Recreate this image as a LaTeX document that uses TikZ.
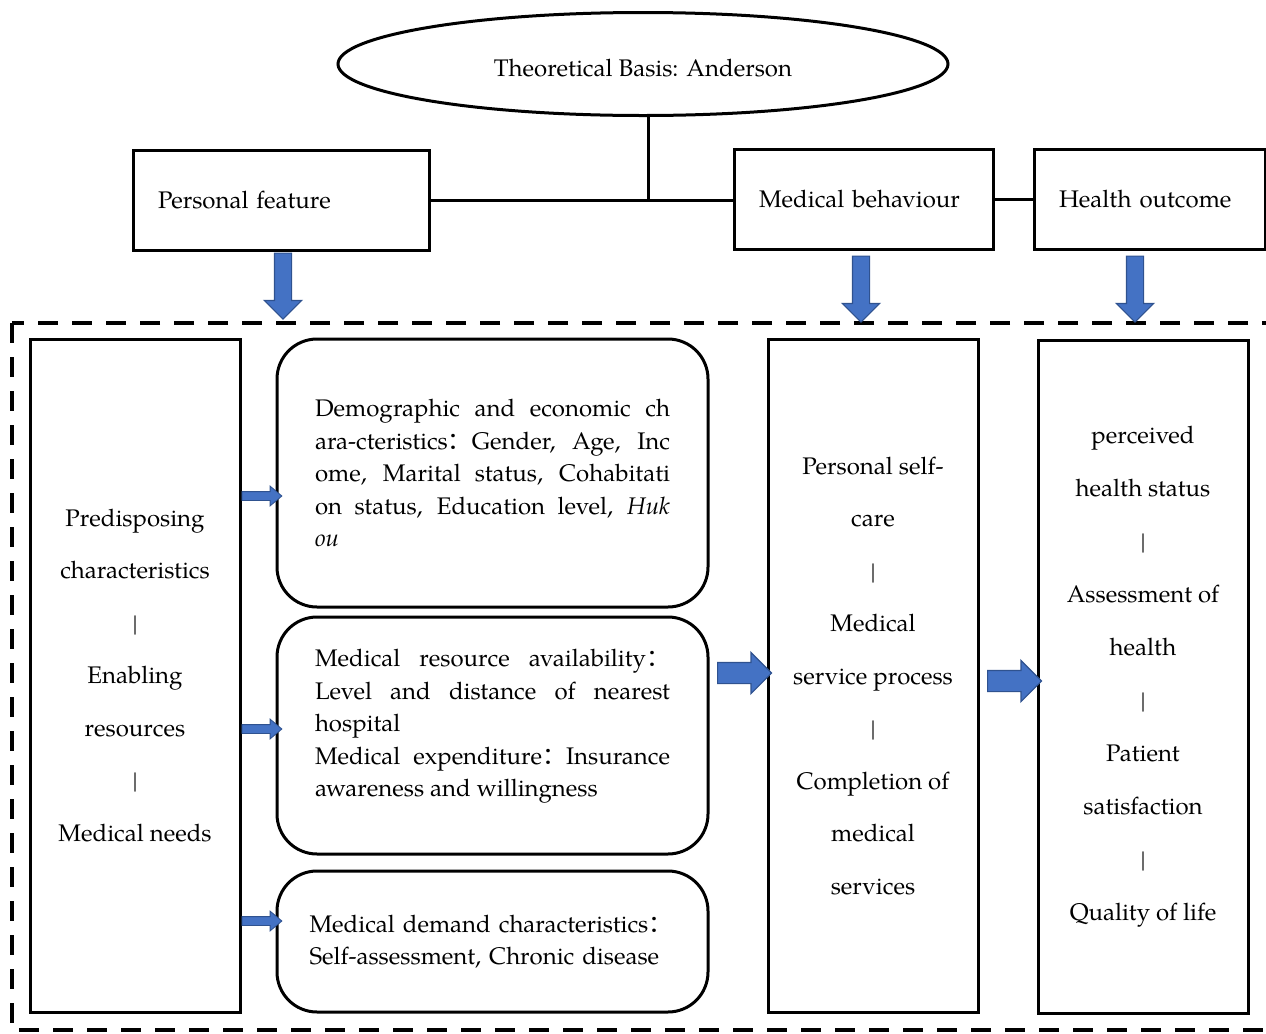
\documentclass[tikz,border=0pt]{standalone}
\usepackage{fontspec}
\setmainfont{texgyrepagella}[Extension=.otf,UprightFont=*-regular,ItalicFont=*-italic,BoldFont=*-bold,BoldItalicFont=*-bolditalic]
\newfontfamily\cjk{Noto Sans CJK SC}
\usepackage{tikz}
\usetikzlibrary{shapes,shapes.arrows}
\definecolor{arrowblue}{HTML}{4472C4}
\definecolor{arrowline}{HTML}{2F528F}
\newcommand{\fcol}{{\cjk ：}}

\begin{document}
\begin{tikzpicture}[x=0.5pt, y=-0.5pt, line width=1.5pt,
  topbox/.style={draw, rectangle, line width=1.5pt, inner xsep=12.5pt, minimum height=50pt, align=left, font=\fontsize{12}{16}\selectfont},
  tallbox/.style={draw, rectangle, line width=1.5pt, minimum width=105pt, minimum height=336.5pt, align=center, font=\fontsize{12}{26.25}\selectfont},
  roundbox/.style={draw, rectangle, rounded corners=20pt, line width=1.5pt, minimum width=215.5pt, text width=177.5pt, align=justify, font=\fontsize{12}{16.25}\selectfont,
    execute at begin node={\tolerance=10000\relax\hyphenpenalty=10000\relax}},
  fatdown/.style={single arrow, draw=arrowline, fill=arrowblue, line width=0.6pt, inner xsep=0pt, inner ysep=4pt, rotate=-90, anchor=tail, minimum height=33pt, single arrow head extend=5pt, single arrow head indent=0pt},
  fatright/.style={single arrow, draw=arrowline, fill=arrowblue, line width=0.6pt, inner xsep=0pt, inner ysep=5pt, anchor=tail, minimum height=27pt, single arrow head extend=5pt, single arrow head indent=0pt},
  thinright/.style={single arrow, draw=arrowline, fill=arrowblue, line width=0.4pt, inner xsep=0pt, inner ysep=2pt, anchor=tail, minimum height=20pt, single arrow head extend=2.75pt, single arrow tip angle=80},
  dashframe/.style={draw, line width=2.2pt, dash pattern=on 10pt off 7pt}]
\useasboundingbox (0,0) rectangle (1266,1034);
\draw
  node at (643,64)[draw, ellipse, line width=1.5pt, minimum width=305pt, minimum height=51.5pt, text height=12pt, text depth=0pt, font=\fontsize{12}{16}\selectfont](theory){Theoretical Basis: Anderson}
  node at (281,200)[topbox, text width=123pt](personal){Personal feature}
  node at (863.5,199)[topbox, text width=104.5pt](behaviour){Medical behaviour}
  node at (1149.5,199)[topbox, text width=90.5pt](outcome){Health outcome}
  node at (135,675.5)[tallbox](pred){Predisposing\\characteristics\\|\\Enabling\\resources\\|\\Medical needs}
  node at (492.5,473)[roundbox, minimum height=134pt](demo){Demographic and economic ch\linebreak ara-cteristics\fcol Gender, Age, Inc\linebreak ome, Marital status, Cohabitati\linebreak on status, Education level, \textit{Huk}\linebreak \textit{ou}}
  node at (492.5,735.5)[roundbox, minimum height=118.5pt](resource){Medical resource availability\fcol\linebreak Level and distance of nearest\linebreak hospital\\Medical expenditure\fcol Insurance\linebreak awareness and willingness\\[-3.75pt]}
  node at (492.5,941.5)[roundbox, minimum height=70.5pt, text width=183pt, align=left](demand){Medical demand characteristics\fcol\\Self-assessment, Chronic disease}
  node at (873,675.5)[tallbox](service){Personal self-\\care\\|\\Medical\\service process\\|\\Completion of\\medical\\services}
  node at (1143,676.5)[tallbox, font=\fontsize{12}{26.5}\selectfont](health){perceived\\health status\\|\\Assessment of\\health\\|\\Patient\\satisfaction\\|\\Quality of life};
  \draw ([xshift=2.5pt]theory.south) -- ([xshift=2.5pt]theory.south |- personal.east);
  \draw (personal.east) -- (personal.east -| behaviour.west);
  \draw (behaviour.east) -- (outcome.west);
  \draw[dashframe] (12,323) rectangle (1300,1030);
  \node[fatdown] (a1) at ([xshift=1pt,yshift=-0.5pt]personal.south) {};
  \node[fatdown] (a2) at ([xshift=-1.25pt,yshift=-2.5pt]behaviour.south) {};
  \node[fatdown] (a3) at ([xshift=-7.25pt,yshift=-2.5pt]outcome.south) {};
  \node[thinright] (b1) at (pred.east |- 0,496) {};
  \node[thinright] (b2) at (pred.east |- 0,729) {};
  \node[thinright] (b3) at (pred.east |- 0,921) {};
  \node[fatright] (c1) at (717,673) {};
  \node[fatright] (c2) at (987,681) {};
\end{tikzpicture}
\end{document}
